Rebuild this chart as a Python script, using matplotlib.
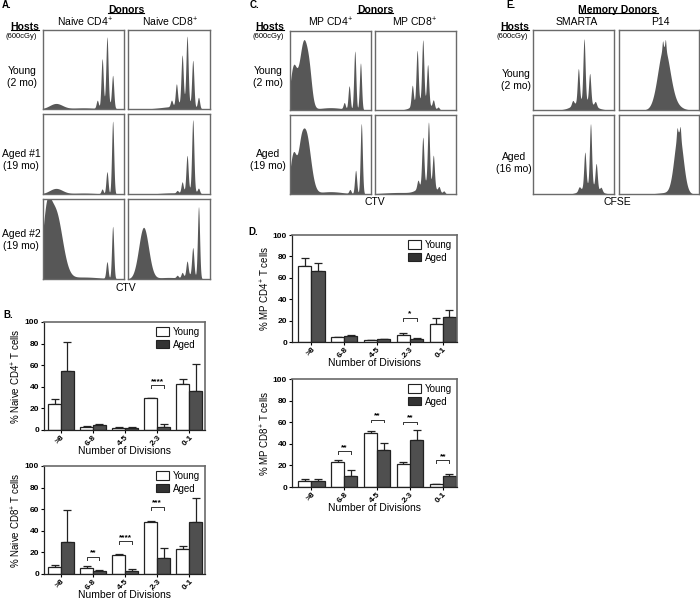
import numpy as np
import matplotlib
matplotlib.use("Agg")
import matplotlib.pyplot as plt
from matplotlib.lines import Line2D
from matplotlib.patches import Patch

plt.rcParams["font.family"] = ["Liberation Sans", "DejaVu Sans"]
plt.rcParams["mathtext.fontset"] = "custom"
plt.rcParams["mathtext.rm"] = "Liberation Sans"
plt.rcParams["mathtext.it"] = "Liberation Sans"

W, H = 700, 599

# -----------------------------
# Histogram peaks: (position 0-1, height %, width)
# -----------------------------
naive_cd4_young = [(0.16, 7, 0.08), (0.50, 1.5, 0.15), (0.79, 8, 0.05),
                   (0.67, 10, 0.013), (0.73, 60, 0.013), (0.79, 84, 0.013),
                   (0.86, 40, 0.013)]
naive_cd8_young = [(0.55, 3, 0.15), (0.70, 8, 0.07), (0.53, 8, 0.013),
                   (0.59, 27, 0.013), (0.66, 60, 0.013), (0.72, 84, 0.013),
                   (0.79, 58, 0.013), (0.86, 14, 0.013)]
naive_cd4_aged1 = [(0.16, 7, 0.08), (0.50, 1.2, 0.15), (0.73, 6, 0.013),
                   (0.79, 28, 0.013), (0.86, 92, 0.013)]
naive_cd8_aged1 = [(0.55, 1.5, 0.15), (0.76, 5, 0.06), (0.60, 3, 0.013),
                   (0.66, 13, 0.013), (0.72, 44, 0.013), (0.79, 89, 0.013),
                   (0.86, 6, 0.013)]
naive_cd4_aged2 = [(0.04, 60, 0.05), (0.15, 85, 0.085), (0.5, 2.5, 0.2),
                   (0.79, 21, 0.013), (0.86, 66, 0.013)]
naive_cd8_aged2 = [(0.19, 65, 0.06), (0.5, 2, 0.15), (0.76, 5, 0.06),
                   (0.60, 3, 0.013), (0.66, 6, 0.013), (0.72, 18, 0.013),
                   (0.79, 35, 0.013), (0.86, 90, 0.013)]

mp_cd4_young = [(0.04, 52, 0.04), (0.17, 88, 0.055), (0.24, 20, 0.03),
                (0.5, 3, 0.15), (0.67, 8, 0.013),
                (0.73, 30, 0.013), (0.80, 75, 0.013), (0.87, 60, 0.013)]
mp_cd4_aged = [(0.04, 50, 0.04), (0.19, 80, 0.06), (0.13, 20, 0.03),
               (0.5, 3, 0.15), (0.74, 5, 0.013), (0.81, 30, 0.013),
               (0.88, 90, 0.013)]
mp_cd8_young = [(0.57, 12, 0.09), (0.46, 26, 0.013), (0.52, 66, 0.013),
                (0.59, 78, 0.013), (0.65, 50, 0.013), (0.72, 10, 0.013),
                (0.78, 3, 0.013)]
mp_cd8_aged = [(0.3, 2, 0.2), (0.64, 14, 0.09), (0.53, 10, 0.013),
               (0.59, 60, 0.013), (0.66, 78, 0.013), (0.72, 40, 0.013),
               (0.79, 6, 0.013), (0.85, 3, 0.013)]

smarta_young = [(0.62, 12, 0.11), (0.49, 6, 0.014), (0.56, 42, 0.013),
                (0.63, 78, 0.013), (0.70, 37, 0.013), (0.77, 6, 0.014)]
smarta_aged = [(0.70, 12, 0.09), (0.57, 5, 0.014), (0.64, 44, 0.013),
               (0.71, 78, 0.013), (0.78, 31, 0.013), (0.84, 5, 0.014)]
p14_young = [(0.56, 78, 0.075), (0.545, 10, 0.007), (0.58, 12, 0.007),
             (0.70, 5, 0.08)]
p14_aged = [(0.745, 78, 0.055), (0.725, 10, 0.007), (0.765, 12, 0.007),
            (0.62, 2, 0.12)]

# -----------------------------
# Bar chart values (mean, upper error)
# -----------------------------
divisions = [">8", "6-8", "4-5", "2-3", "0-1"]

naive_cd4_young_mean = [23.7, 3.1, 2.1, 29.2, 42.2]
naive_cd4_young_err = [4.6, 0.4, 0.3, 0.6, 4.6]
naive_cd4_aged_mean = [55.0, 4.3, 1.8, 2.8, 36.3]
naive_cd4_aged_err = [26.5, 0.9, 0.7, 2.4, 24.9]
naive_cd4_sig = [(3, 41.5, "****")]

naive_cd8_young_mean = [6.2, 5.5, 17.5, 48.0, 23.1]
naive_cd8_young_err = [2.1, 1.5, 1.3, 1.2, 3.1]
naive_cd8_aged_mean = [29.8, 3.1, 3.1, 14.5, 48.6]
naive_cd8_aged_err = [29.9, 0.5, 1.2, 9.8, 22.2]
naive_cd8_sig = [(1, 15.7, "**"), (2, 30.2, "****"), (3, 62.2, "***")]

mp_cd4_young_mean = [71.1, 4.7, 1.9, 6.5, 16.5]
mp_cd4_young_err = [7.8, 0.3, 0.2, 2.2, 5.9]
mp_cd4_aged_mean = [66.1, 5.6, 2.5, 2.8, 23.3]
mp_cd4_aged_err = [8.1, 0.9, 0.6, 0.6, 6.2]
mp_cd4_sig = [(3, 22.4, "*")]

mp_cd8_young_mean = [5.3, 23.2, 50.2, 21.7, 2.5]
mp_cd8_young_err = [2.4, 1.6, 2.1, 1.8, 0.6]
mp_cd8_aged_mean = [5.9, 9.9, 34.7, 43.3, 9.9]
mp_cd8_aged_err = [1.8, 5.6, 5.9, 9.6, 2.5]
mp_cd8_sig = [(1, 33.1, "**"), (2, 62.5, "**"), (3, 60.4, "**"), (4, 24.8, "**")]

HIST_FILL = "#575757"
FRAME = "#6a6a6a"
AGED_FILL = "#4f4f4f"

fig = plt.figure(figsize=(W / 100, H / 100), dpi=100)
underlined = []


def rect(x0, y0, x1, y1):
    return [x0 / W, 1 - y1 / H, (x1 - x0) / W, (y1 - y0) / H]


def txt(x, y, s, size=7.5, weight="normal", ha="center", underline=False):
    t = fig.text(x / W, 1 - y / H, s, fontsize=size, fontweight=weight,
                 ha=ha, va="center", linespacing=1.2)
    if underline:
        underlined.append(t)
    return t


def histo(x0, y0, x1, y1, peaks):
    ax = fig.add_axes(rect(x0, y0, x1, y1))
    xs = np.linspace(0, 1, 600)
    ys = np.zeros_like(xs)
    for c, h, w in peaks:
        ys += h * np.exp(-(xs - c) ** 2 / (2 * w ** 2))
    ax.fill_between(xs, 0, ys, color=HIST_FILL, lw=0)
    ax.set_xlim(0, 1)
    ax.set_ylim(0, 101)
    ax.set_xticks([])
    ax.set_yticks([])
    for s in ax.spines.values():
        s.set_color(FRAME)
        s.set_linewidth(1.0)
    return ax


def bars(x0, y0, x1, y1, ym, ye, am, ae, ylabel, sig, xlim):
    ax = fig.add_axes(rect(x0, y0, x1, y1))
    x = np.arange(len(divisions))
    w = 0.4
    ax.bar(x - w / 2, ym, w, color="white", edgecolor="#222222", lw=0.9, zorder=2)
    ax.bar(x + w / 2, am, w, color=AGED_FILL, edgecolor="#222222", lw=0.9, zorder=2)
    z = np.zeros(len(x))
    ax.errorbar(x - w / 2, ym, yerr=[z, ye], fmt="none", ecolor="#222222",
                elinewidth=0.9, capsize=2.6, capthick=0.9, zorder=1)
    ax.errorbar(x + w / 2, am, yerr=[z, ae], fmt="none", ecolor="#222222",
                elinewidth=0.9, capsize=2.6, capthick=0.9, zorder=1)
    for g, yb, stars in sig:
        ax.plot([g - w / 2, g - w / 2, g + w / 2, g + w / 2],
                [yb - 2.5, yb, yb, yb - 2.5], color="#333333", lw=0.7)
        ax.text(g, yb + 0.3, stars, ha="center", va="bottom", fontsize=6,
                fontweight="bold")
    ax.set_xlim(*xlim)
    ax.set_ylim(0, 100)
    ax.set_yticks(range(0, 101, 20))
    ax.set_xticks(x)
    ax.set_xticklabels(divisions, rotation=45, ha="right", rotation_mode="anchor",
                       fontsize=6, fontweight="bold")
    ax.tick_params(axis="y", labelsize=6, length=2.5, width=0.8, pad=1)
    ax.tick_params(axis="x", length=2, width=0.8, pad=1)
    for lab in ax.get_yticklabels():
        lab.set_fontweight("bold")
    ax.set_ylabel(ylabel, fontsize=7, labelpad=1)
    ax.set_xlabel("Number of Divisions", fontsize=7.5, labelpad=-1)
    for s in ("left", "bottom"):
        ax.spines[s].set_color("#222222")
        ax.spines[s].set_linewidth(0.9)
    for s in ("top", "right"):
        ax.spines[s].set_color(FRAME)
        ax.spines[s].set_linewidth(1.2)
    handles = [Patch(facecolor="white", edgecolor="#222222", lw=0.8, label="Young"),
               Patch(facecolor="#333333", edgecolor="#222222", lw=0.8, label="Aged")]
    ax.legend(handles=handles, loc="upper right", bbox_to_anchor=(1.0, 1.0),
              frameon=False, fontsize=7, handlelength=1.3, handleheight=0.9,
              handletextpad=0.4, labelspacing=0.3, borderaxespad=0.3,
              borderpad=0.2)
    return ax


# -----------------------------
# Panel A
# -----------------------------
txt(2, 5, "A.", size=7, weight="bold", ha="left")
txt(126, 10, "Donors", size=7.5, weight="bold", underline=True)
txt(25, 27, "Hosts", size=7.5, weight="bold", underline=True)
txt(21, 37, "(600cGy)", size=5.5)
txt(85, 22, "Naive CD4$^{+}$")
txt(170, 22, "Naive CD8$^{+}$")
txt(22, 77, "Young\n(2 mo)")
txt(21, 160, "Aged #1\n(19 mo)")
txt(21, 240, "Aged #2\n(19 mo)")
txt(126, 288, "CTV")
histo(43, 30, 124, 109, naive_cd4_young)
histo(128, 30, 210, 109, naive_cd8_young)
histo(43, 114, 124, 194, naive_cd4_aged1)
histo(128, 114, 210, 194, naive_cd8_aged1)
histo(43, 199, 124, 279, naive_cd4_aged2)
histo(128, 199, 210, 279, naive_cd8_aged2)

# -----------------------------
# Panel C
# -----------------------------
txt(250, 5, "C.", size=7, weight="bold", ha="left")
txt(375, 10, "Donors", size=7.5, weight="bold", underline=True)
txt(270, 27, "Hosts", size=7.5, weight="bold", underline=True)
txt(268, 37, "(600cGy)", size=5.5)
txt(331, 22, "MP CD4$^{+}$")
txt(415, 22, "MP CD8$^{+}$")
txt(268, 77, "Young\n(2 mo)")
txt(268, 160, "Aged\n(19 mo)")
txt(375, 202, "CTV")
histo(290, 31, 371, 110, mp_cd4_young)
histo(375, 31, 456, 110, mp_cd8_young)
histo(290, 115, 371, 194, mp_cd4_aged)
histo(375, 115, 456, 194, mp_cd8_aged)

# -----------------------------
# Panel E
# -----------------------------
txt(506, 5, "E.", size=7, weight="bold", ha="left")
txt(618, 10, "Memory Donors", size=7.5, weight="bold", underline=True)
txt(515, 27, "Hosts", size=7.5, weight="bold", underline=True)
txt(512, 37, "(600cGy)", size=5.5)
txt(577, 22, "SMARTA")
txt(660, 22, "P14")
txt(516, 80, "Young\n(2 mo)")
txt(514, 163, "Aged\n(16 mo)")
txt(617, 202, "CFSE")
histo(533, 30, 614, 110, smarta_young)
histo(619, 30, 699, 110, p14_young)
histo(533, 115, 614, 194, smarta_aged)
histo(619, 115, 699, 194, p14_aged)

# -----------------------------
# Panels B and D
# -----------------------------
txt(3, 315, "B.", size=7, weight="bold", ha="left")
bars(44, 322, 205, 430, naive_cd4_young_mean, naive_cd4_young_err,
     naive_cd4_aged_mean, naive_cd4_aged_err, "% Naive CD4$^{+}$ T cells",
     naive_cd4_sig, (-0.53, 4.49))
bars(44, 466, 205, 574, naive_cd8_young_mean, naive_cd8_young_err,
     naive_cd8_aged_mean, naive_cd8_aged_err, "% Naive CD8$^{+}$ T cells",
     naive_cd8_sig, (-0.53, 4.49))

txt(248, 232, "D.", size=7, weight="bold", ha="left")
bars(292, 235, 457, 342, mp_cd4_young_mean, mp_cd4_young_err,
     mp_cd4_aged_mean, mp_cd4_aged_err, "% MP CD4$^{+}$ T cells",
     mp_cd4_sig, (-0.59, 4.43))
bars(292, 379, 457, 487, mp_cd8_young_mean, mp_cd8_young_err,
     mp_cd8_aged_mean, mp_cd8_aged_err, "% MP CD8$^{+}$ T cells",
     mp_cd8_sig, (-0.59, 4.43))

# underline the header words
fig.canvas.draw()
renderer = fig.canvas.get_renderer()
for t in underlined:
    bb = t.get_window_extent(renderer)
    yline = (bb.y0 + 1.8) / H
    fig.add_artist(Line2D([bb.x0 / W, bb.x1 / W], [yline, yline],
                          transform=fig.transFigure, color="black", lw=0.8))

fig.savefig("out.png", dpi=100)
